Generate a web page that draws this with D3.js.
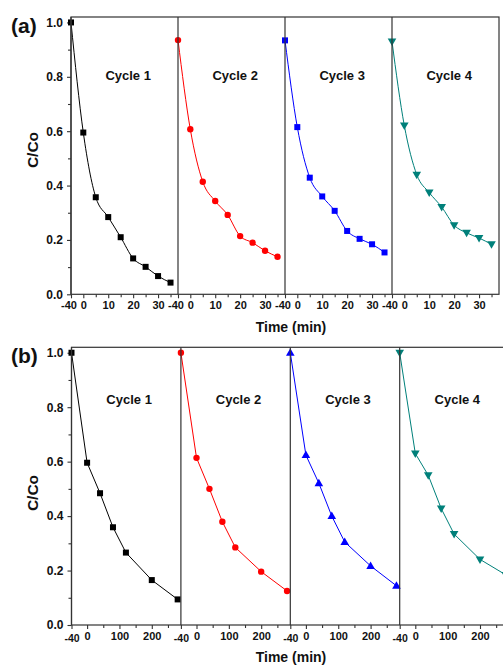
<!DOCTYPE html>
<html>
<head>
<meta charset="utf-8">
<script src="https://cdn.jsdelivr.net/npm/d3@7"></script>
<style>
  html, body { margin: 0; padding: 0; background: #fff; }
  svg { display: block; }
  text { font-family: "Liberation Sans", Arial, sans-serif; font-weight: bold; fill: #111; }
</style>
</head>
<body>
<svg id="chart" width="503" height="667"></svg>
<script>
// Photocatalytic degradation, four reuse cycles; C/Co against time.
// Panel (a): short runs (min)
const timesA = [-40, 0, 5, 10, 15, 20, 25, 30, 35];
const cycleA1 = [1.0, 0.595, 0.357, 0.284, 0.21, 0.132, 0.101, 0.067, 0.043];
const cycleA2 = [0.935, 0.607, 0.414, 0.343, 0.292, 0.214, 0.19, 0.16, 0.138];
const cycleA3 = [0.934, 0.615, 0.429, 0.36, 0.307, 0.233, 0.204, 0.184, 0.154];
const cycleA4 = [0.93, 0.621, 0.44, 0.374, 0.321, 0.254, 0.226, 0.207, 0.184];
const ticksA = [-40, 0, 10, 20, 30];
const minorTicksA = [5, 15, 25, 35];

// Panel (b): long runs (min)
const timesB = [-40, 0, 40, 80, 120, 200, 280];
const cycleB1 = [1.0, 0.596, 0.484, 0.359, 0.266, 0.165, 0.094];
const cycleB2 = [1.0, 0.614, 0.5, 0.379, 0.285, 0.196, 0.125];
const cycleB3 = [1.0, 0.624, 0.521, 0.4, 0.305, 0.217, 0.144];
const cycleB4 = [1.0, 0.63, 0.55, 0.428, 0.334, 0.241, 0.184];
const ticksB = [-40, 0, 100, 200];
const minorTicksB = [50, 150, 250];

const cycleNames = ["Cycle 1", "Cycle 2", "Cycle 3", "Cycle 4"];
const yTicks = [0, 0.2, 0.4, 0.6, 0.8, 1.0];
const yMinorTicks = [0.1, 0.3, 0.5, 0.7, 0.9];

const colors = ["#000000", "#ff0000", "#0000ff", "#00807a"];

const svg = d3.select("#chart");
const FONT = "Liberation Sans, Arial, sans-serif";

function marker(g, type, x, y, color) {
  if (type === "square") {
    g.append("rect").attr("x", x - 3).attr("y", y - 3).attr("width", 6).attr("height", 6).attr("fill", color);
  } else if (type === "circle") {
    g.append("circle").attr("cx", x).attr("cy", y).attr("r", 3.2).attr("fill", color);
  } else if (type === "up") {
    g.append("path").attr("d", `M${x},${y - 4.5}L${x + 4.3},${y + 3}L${x - 4.3},${y + 3}Z`).attr("fill", color);
  } else if (type === "down") {
    g.append("path").attr("d", `M${x},${y + 4.5}L${x + 4.3},${y - 3}L${x - 4.3},${y - 3}Z`).attr("fill", color);
  }
}

function styleTickText(sel, size) {
  sel.selectAll("text").attr("font-size", size).attr("font-family", FONT)
    .attr("font-weight", "bold").attr("fill", "#111");
}

function drawPanel(cfg) {
  const g = svg.append("g");
  const y = d3.scaleLinear().domain([0, 1.02]).range([cfg.bottom, cfg.top]);

  // left axis: major and minor ticks
  const yAxis = g.append("g").attr("transform", `translate(${cfg.left},0)`)
    .call(d3.axisLeft(y).tickValues(yTicks).tickFormat(d3.format(".1f")).tickSize(4).tickPadding(4));
  yAxis.select(".domain").remove();
  yAxis.selectAll("line").attr("stroke", "#333").attr("stroke-width", 1.1);
  styleTickText(yAxis, 12);
  const yMinor = g.append("g").attr("transform", `translate(${cfg.left},0)`)
    .call(d3.axisLeft(y).tickValues(yMinorTicks).tickFormat("").tickSize(3));
  yMinor.select(".domain").remove();
  yMinor.selectAll("line").attr("stroke", "#333").attr("stroke-width", 1.1);

  cfg.series.forEach((vals, i) => {
    const x0 = cfg.left + i * cfg.subWidth;
    const x = d3.scaleLinear()
      .domain([-40, 0, cfg.xMax])
      .range([x0, x0 + cfg.zeroOffset, x0 + cfg.subWidth]);

    const xAxis = g.append("g").attr("transform", `translate(0,${cfg.bottom})`)
      .call(d3.axisBottom(x).tickValues(cfg.ticks).tickFormat(d => String(d)).tickSize(4).tickPadding(3));
    xAxis.select(".domain").remove();
    xAxis.selectAll("line").attr("stroke", "#333").attr("stroke-width", 1.1);
    styleTickText(xAxis, 11);
    xAxis.selectAll("text")
      .attr("dy", d => (d === -40 && cfg.lowerFirst) ? "0.95em" : "0.71em")
      .attr("dx", d => d === -40 ? cfg.firstShift : 0)
      .attr("font-size", d => (d === -40 && cfg.lowerFirst) ? 10.5 : 11);
    const xMinor = g.append("g").attr("transform", `translate(0,${cfg.bottom})`)
      .call(d3.axisBottom(x).tickValues(cfg.minorTicks).tickFormat("").tickSize(3));
    xMinor.select(".domain").remove();
    xMinor.selectAll("line").attr("stroke", "#333").attr("stroke-width", 1.1);

    const pts = cfg.times.map((t, k) => [x(t), y(vals[k])]);
    g.append("path")
      .attr("d", d3.line().curve(cfg.curve)(pts))
      .attr("fill", "none").attr("stroke", colors[i]).attr("stroke-width", 1);
    pts.forEach(p => marker(g, cfg.markers[i], p[0], p[1], colors[i]));

    g.append("text")
      .attr("x", x(cfg.labelT)).attr("y", cfg.labelY)
      .attr("text-anchor", "middle").attr("font-size", 13)
      .text(cycleNames[i]);

    // subpanel divider
    g.append("line")
      .attr("x1", x0).attr("x2", x0).attr("y1", cfg.top).attr("y2", cfg.bottom)
      .attr("stroke", "#333").attr("stroke-width", 1.2);
  });

  const right = cfg.left + 4 * cfg.subWidth;
  g.append("rect")
    .attr("x", cfg.left).attr("y", cfg.top)
    .attr("width", right - cfg.left).attr("height", cfg.bottom - cfg.top)
    .attr("fill", "none").attr("stroke", "#333").attr("stroke-width", 1.2);

  g.append("text").attr("x", 11).attr("y", cfg.top + 16)
    .attr("font-size", 21).text(cfg.letter);

  g.append("text")
    .attr("transform", `translate(37.5,${cfg.yLabelY}) rotate(-90)`)
    .attr("text-anchor", "middle").attr("font-size", 15.5)
    .text("C/Co");

  g.append("text")
    .attr("x", 291).attr("y", cfg.xLabelY)
    .attr("text-anchor", "middle").attr("font-size", 14)
    .text("Time (min)");
}

drawPanel({
  letter: "(a)", top: 17, bottom: 294.3, left: 71, subWidth: 107,
  zeroOffset: 12.3, xMax: 38, times: timesA,
  series: [cycleA1, cycleA2, cycleA3, cycleA4],
  markers: ["square", "circle", "square", "down"],
  ticks: ticksA, minorTicks: minorTicksA,
  curve: d3.curveMonotoneX, labelT: 18, labelY: 80,
  yLabelY: 150, xLabelY: 332, lowerFirst: false, firstShift: -2.5
});

drawPanel({
  letter: "(b)", top: 347.3, bottom: 625, left: 71.5, subWidth: 109.4,
  zeroOffset: 15.6, xMax: 290, times: timesB,
  series: [cycleB1, cycleB2, cycleB3, cycleB4],
  markers: ["square", "circle", "up", "down"],
  ticks: ticksB, minorTicks: minorTicksB,
  curve: d3.curveLinear, labelT: 130, labelY: 404,
  yLabelY: 493, xLabelY: 662, lowerFirst: true, firstShift: 0
});
</script>
</body>
</html>
